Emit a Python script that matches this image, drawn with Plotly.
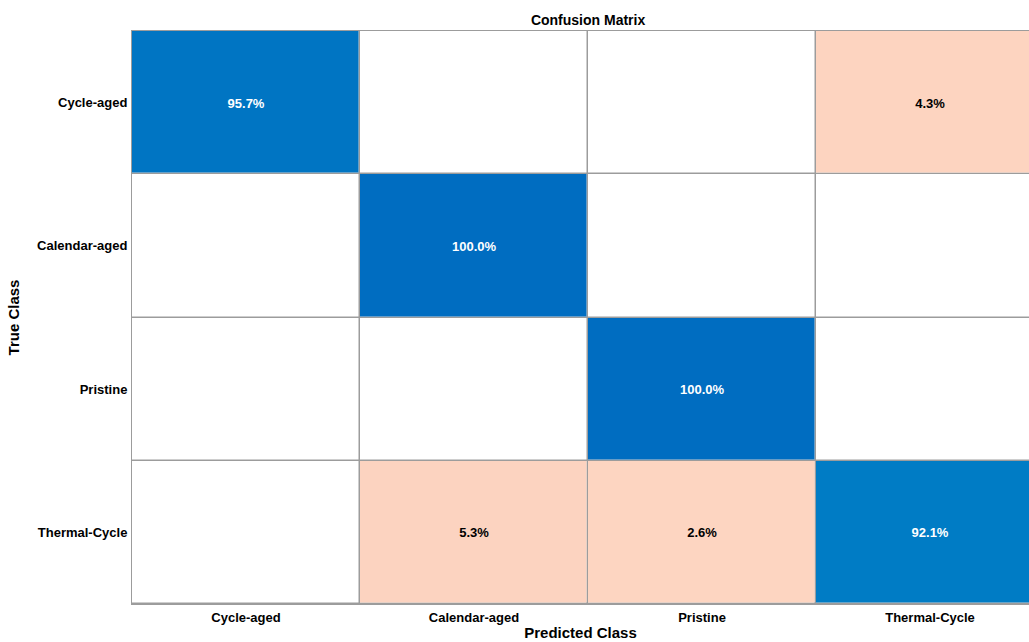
import numpy as np
import plotly.graph_objects as go

# Class names (rows = true class, columns = predicted class)
classes = ["Cycle-aged", "Calendar-aged", "Pristine", "Thermal-Cycle"]

# Row-normalised confusion matrix values in percent
row_cycle = [95.7, 0.0, 0.0, 4.3]
row_calendar = [0.0, 100.0, 0.0, 0.0]
row_pristine = [0.0, 0.0, 100.0, 0.0]
row_thermal = [0.0, 5.3, 2.6, 92.1]

matrix = np.array([row_cycle, row_calendar, row_pristine, row_thermal])
n = len(classes)
idx = np.arange(n)

diag = np.full_like(matrix, np.nan)
off = np.full_like(matrix, np.nan)
for i in range(n):
    for j in range(n):
        if matrix[i, j] > 0:
            if i == j:
                diag[i, j] = matrix[i, j]
            else:
                off[i, j] = matrix[i, j]


def fmt(a):
    return np.where(np.isnan(a), "", np.vectorize(lambda v: f"{v:.1f}%")(np.nan_to_num(a)))


label_diag = fmt(diag)
label_off = fmt(off)

FONT = "Liberation Sans, Arial, sans-serif"
GAP = 1.5
GRID = "#9c9c9c"

fig = go.Figure()

# white base cells
fig.add_trace(go.Heatmap(
    x=idx, y=idx, z=np.zeros_like(matrix),
    colorscale=[[0, "#ffffff"], [1, "#ffffff"]], showscale=False,
    xgap=GAP, ygap=GAP, hoverinfo="skip",
))

# correct predictions (diagonal)
fig.add_trace(go.Heatmap(
    x=idx, y=idx, z=diag, text=label_diag, texttemplate="<b>%{text}</b>",
    textfont=dict(family=FONT, size=13, color="white"),
    colorscale=[[0, "#0080c6"], [1, "#006dc1"]], zmin=90, zmax=100,
    showscale=False, xgap=GAP, ygap=GAP,
))

# misclassifications (off-diagonal)
fig.add_trace(go.Heatmap(
    x=idx, y=idx, z=off, text=label_off, texttemplate="<b>%{text}</b>",
    textfont=dict(family=FONT, size=13, color="black"),
    colorscale=[[0, "#fdd6c3"], [1, "#fcd1bd"]], zmin=0, zmax=10,
    showscale=False, xgap=GAP, ygap=GAP,
))

fig.update_layout(
    width=1029, height=642,
    margin=dict(l=132, r=0, t=31, b=38),
    paper_bgcolor="white",
    plot_bgcolor=GRID,
    font=dict(family=FONT, color="black"),
    title=dict(text="<b>Confusion Matrix</b>", x=0.5715, xanchor="center",
               y=0.968, yanchor="middle",
               font=dict(size=14, family=FONT, color="black")),
    xaxis=dict(
        range=[-0.5, 3.434], tickvals=idx,
        ticktext=[f"<b>{c}</b>" for c in classes],
        tickfont=dict(size=13), ticks="", showgrid=False, zeroline=False,
        showline=True, linecolor=GRID, linewidth=1, mirror=True,
        ticklabelstandoff=1,
        title=dict(text="<b>Predicted Class</b>", font=dict(size=15), standoff=3),
    ),
    yaxis=dict(
        range=[n - 0.5, -0.5], tickvals=idx,
        ticktext=[f"<b>{c}</b>" for c in classes],
        tickfont=dict(size=13), ticks="", showgrid=False, zeroline=False,
        showline=True, linecolor=GRID, linewidth=1,
        ticklabelstandoff=1,
        title=dict(text="<b>True Class</b>", font=dict(size=15), standoff=13),
    ),
)

fig.write_html("out.html")
